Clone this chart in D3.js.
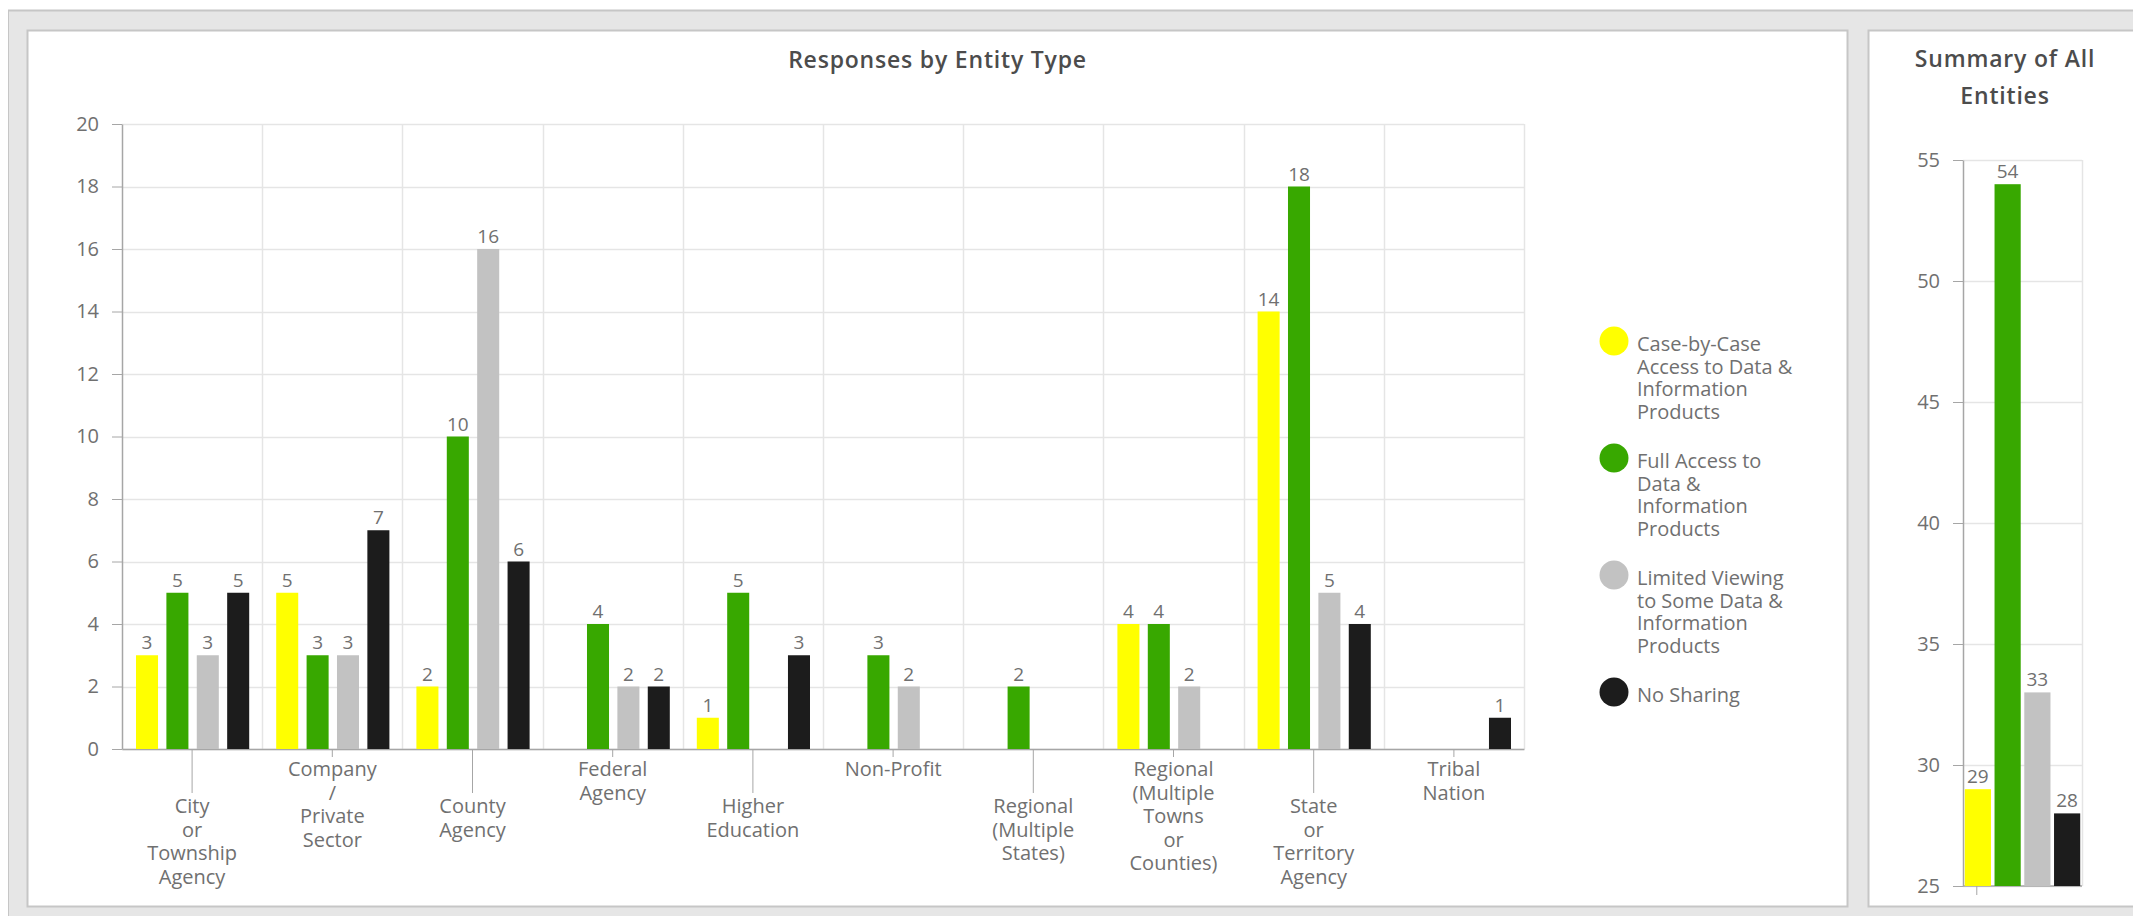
<!DOCTYPE html>
<html>
<head>
<meta charset="utf-8">
<script src="https://cdn.jsdelivr.net/npm/d3@7"></script>
<style>
  body { margin: 0; background: #fff; }
  svg text { font-family: "Open Sans", Lato, sans-serif; }
</style>
</head>
<body>
<div id="chart"></div>
<script>
// Data
const categories = ["City or Township Agency", "Company / Private Sector", "County Agency", "Federal Agency",
  "Higher Education", "Non-Profit", "Regional (Multiple States)", "Regional (Multiple Towns or Counties)",
  "State or Territory Agency", "Tribal Nation"];
const categoryLines = [["City", "or", "Township", "Agency"], ["Company", "/", "Private", "Sector"], ["County", "Agency"],
  ["Federal", "Agency"], ["Higher", "Education"], ["Non-Profit"], ["Regional", "(Multiple", "States)"],
  ["Regional", "(Multiple", "Towns", "or", "Counties)"], ["State", "or", "Territory", "Agency"], ["Tribal", "Nation"]];

const seriesNames = ["Case-by-Case Access to Data & Information Products", "Full Access to Data & Information Products",
  "Limited Viewing to Some Data & Information Products", "No Sharing"];
const legendLines = [["Case-by-Case", "Access to Data &", "Information", "Products"],
  ["Full Access to", "Data &", "Information", "Products"],
  ["Limited Viewing", "to Some Data &", "Information", "Products"],
  ["No Sharing"]];

const caseByCase     = [3, 5, 2, null, 1, null, null, 4, 14, null];
const fullAccess     = [5, 3, 10, 4, 5, 3, 2, 4, 18, null];
const limitedViewing = [3, 3, 16, 2, null, 2, null, 2, 5, null];
const noSharing      = [5, 7, 6, 2, 3, null, null, null, 4, 1];

const yTicksMain = [0, 2, 4, 6, 8, 10, 12, 14, 16, 18, 20];

const summaryTotals = [29, 54, 33, 28];
const yTicksSummary = [25, 30, 35, 40, 45, 50, 55];

const colors = ["#ffff00", "#38a800", "#c2c2c2", "#1c1c1c"];
const textColor = "#707070";
const gridColor = "#e5e5e5";
const axisColor = "#a6a6a6";

const seriesValues = [caseByCase, fullAccess, limitedViewing, noSharing];

const W = 2133, H = 916;
const svg = d3.select("#chart").append("svg")
  .attr("width", W)
  .attr("height", H);

// Background and panels
svg.append("rect").attr("x", 8).attr("y", 10).attr("width", W - 8).attr("height", H - 10).attr("fill", "#e6e6e6");
svg.append("line").attr("x1", 8).attr("x2", W).attr("y1", 10.5).attr("y2", 10.5).attr("stroke", "#c6c6c6").attr("stroke-width", 2);
svg.append("line").attr("x1", 8.5).attr("x2", 8.5).attr("y1", 10).attr("y2", H).attr("stroke", "#c6c6c6").attr("stroke-width", 1);

svg.append("rect").attr("x", 27.5).attr("y", 30.5).attr("width", 1820).attr("height", 876)
  .attr("fill", "#fff").attr("stroke", "#c6c6c6").attr("stroke-width", 2);
svg.append("rect").attr("x", 1868.5).attr("y", 30.5).attr("width", 300).attr("height", 876)
  .attr("fill", "#fff").attr("stroke", "#c6c6c6").attr("stroke-width", 2);

// ---------- Main chart ----------
const plot = {left: 122, right: 1524, top: 124, bottom: 749};

svg.append("text")
  .attr("x", (27 + 1848) / 2)
  .attr("y", 68)
  .attr("text-anchor", "middle")
  .attr("font-size", "23px")
  .attr("font-weight", 600)
  .attr("letter-spacing", "0.8px")
  .attr("fill", "#4c4c4c")
  .text("Responses by Entity Type");

const y = d3.scaleLinear().domain([0, 20]).range([plot.bottom, plot.top]);
const x0 = d3.scaleBand().domain(categories).range([plot.left, plot.right]);
const x1 = d3.scaleBand().domain(d3.range(4)).range([14, x0.bandwidth() - 13]).paddingInner(0.275);

// grid
svg.append("g").selectAll("line.h")
  .data(yTicksMain)
  .enter().append("line")
    .attr("x1", plot.left).attr("x2", plot.right)
    .attr("y1", d => Math.round(y(d)) + 0.5).attr("y2", d => Math.round(y(d)) + 0.5)
    .attr("stroke", gridColor).attr("stroke-width", 1.5);

svg.append("g").selectAll("line.v")
  .data(categories.slice(1).map(c => x0(c)).concat([plot.right]))
  .enter().append("line")
    .attr("x1", d => Math.round(d) + 0.5).attr("x2", d => Math.round(d) + 0.5)
    .attr("y1", plot.top).attr("y2", plot.bottom)
    .attr("stroke", gridColor).attr("stroke-width", 1.5);

// y axis
const yAxis = svg.append("g")
  .attr("transform", "translate(" + plot.left + ",0)")
  .call(d3.axisLeft(y).tickValues(yTicksMain).tickSize(10).tickSizeOuter(0).tickPadding(13));
yAxis.select(".domain").attr("stroke", axisColor).attr("stroke-width", 1.5);
yAxis.selectAll(".tick line").attr("stroke", axisColor);
yAxis.selectAll(".tick text")
  .attr("font-size", "20px").attr("fill", textColor)
  .attr("font-family", "'Open Sans', sans-serif");

// x axis with staggered labels
const xAxis = svg.append("g")
  .attr("transform", "translate(0," + plot.bottom + ")")
  .call(d3.axisBottom(x0).tickSizeOuter(0).tickFormat(""));
xAxis.select(".domain").attr("stroke", axisColor).attr("stroke-width", 1.5);
xAxis.selectAll(".tick line")
  .attr("stroke", axisColor)
  .attr("y2", (d, i) => i % 2 === 0 ? 44 : 8);

categories.forEach((c, i) => {
  const t = svg.append("text")
    .attr("text-anchor", "middle")
    .attr("font-size", "20px")
    .attr("fill", textColor);
  const y0 = plot.bottom + (i % 2 === 0 ? 64 : 27);
  categoryLines[i].forEach((line, j) => {
    t.append("tspan")
      .attr("x", x0(c) + x0.bandwidth() / 2)
      .attr("y", y0 + j * 23.5)
      .text(line);
  });
});

// bars
seriesValues.forEach((vals, s) => {
  const data = categories.map((c, i) => ({cat: c, v: vals[i]})).filter(d => d.v !== null);
  const g = svg.append("g");
  g.selectAll("rect")
    .data(data)
    .enter().append("rect")
      .attr("x", d => x0(d.cat) + x1(s))
      .attr("y", d => y(d.v))
      .attr("width", x1.bandwidth())
      .attr("height", d => plot.bottom - y(d.v))
      .attr("fill", colors[s]);
  g.selectAll("text")
    .data(data)
    .enter().append("text")
      .attr("x", d => x0(d.cat) + x1(s) + x1.bandwidth() / 2)
      .attr("y", d => y(d.v) - 6)
      .attr("text-anchor", "middle")
      .attr("font-size", "19px")
      .attr("fill", textColor)
      .text(d => d.v);
});

// legend
const legend = svg.append("g").attr("transform", "translate(1614,341)");
seriesNames.forEach((name, k) => {
  const item = legend.append("g").attr("transform", "translate(0," + (k * 117) + ")");
  item.append("circle").attr("r", 14.5).attr("fill", colors[k]);
  const t = item.append("text").attr("font-size", "20px").attr("fill", textColor);
  legendLines[k].forEach((line, j) => {
    t.append("tspan").attr("x", 23).attr("y", 10 + j * 22.5).text(line);
  });
});

// ---------- Summary chart ----------
const sp = {left: 1963, right: 2082, top: 160, bottom: 886};

const st = svg.append("text")
  .attr("text-anchor", "middle")
  .attr("font-size", "23px")
  .attr("font-weight", 600)
  .attr("letter-spacing", "0.8px")
  .attr("fill", "#4c4c4c");
st.append("tspan").attr("x", 2005).attr("y", 67).text("Summary of All");
st.append("tspan").attr("x", 2005).attr("y", 104).text("Entities");

const yS = d3.scaleLinear().domain([25, 55]).range([sp.bottom, sp.top]);
const xS = d3.scaleBand().domain(d3.range(4)).range([sp.left, sp.right]).paddingInner(0.12).paddingOuter(0.06);

svg.append("g").selectAll("line")
  .data(yTicksSummary)
  .enter().append("line")
    .attr("x1", sp.left).attr("x2", sp.right)
    .attr("y1", d => Math.round(yS(d)) + 0.5).attr("y2", d => Math.round(yS(d)) + 0.5)
    .attr("stroke", gridColor).attr("stroke-width", 1.5);
svg.append("line")
  .attr("x1", sp.right + 0.5).attr("x2", sp.right + 0.5)
  .attr("y1", sp.top).attr("y2", sp.bottom)
  .attr("stroke", gridColor).attr("stroke-width", 1.5);

const ySAxis = svg.append("g")
  .attr("transform", "translate(" + sp.left + ",0)")
  .call(d3.axisLeft(yS).tickValues(yTicksSummary).tickSize(10).tickSizeOuter(0).tickPadding(13));
ySAxis.select(".domain").attr("stroke", axisColor).attr("stroke-width", 1.5);
ySAxis.selectAll(".tick line").attr("stroke", axisColor);
ySAxis.selectAll(".tick text")
  .attr("font-size", "20px").attr("fill", textColor)
  .attr("font-family", "'Open Sans', sans-serif");

svg.append("line")
  .attr("x1", sp.left).attr("x2", sp.right)
  .attr("y1", sp.bottom).attr("y2", sp.bottom)
  .attr("stroke", axisColor).attr("stroke-width", 1.5);
svg.append("line")
  .attr("x1", xS(0) + 12).attr("x2", xS(0) + 12)
  .attr("y1", sp.bottom).attr("y2", sp.bottom + 9)
  .attr("stroke", axisColor);

svg.append("g").selectAll("rect")
  .data(summaryTotals)
  .enter().append("rect")
    .attr("x", (d, i) => xS(i))
    .attr("y", d => yS(d))
    .attr("width", xS.bandwidth())
    .attr("height", d => sp.bottom - yS(d))
    .attr("fill", (d, i) => colors[i]);

svg.append("g").selectAll("text")
  .data(summaryTotals)
  .enter().append("text")
    .attr("x", (d, i) => xS(i) + xS.bandwidth() / 2)
    .attr("y", d => yS(d) - 6)
    .attr("text-anchor", "middle")
    .attr("font-size", "19px")
    .attr("fill", textColor)
    .text(d => d);
</script>
</body>
</html>
